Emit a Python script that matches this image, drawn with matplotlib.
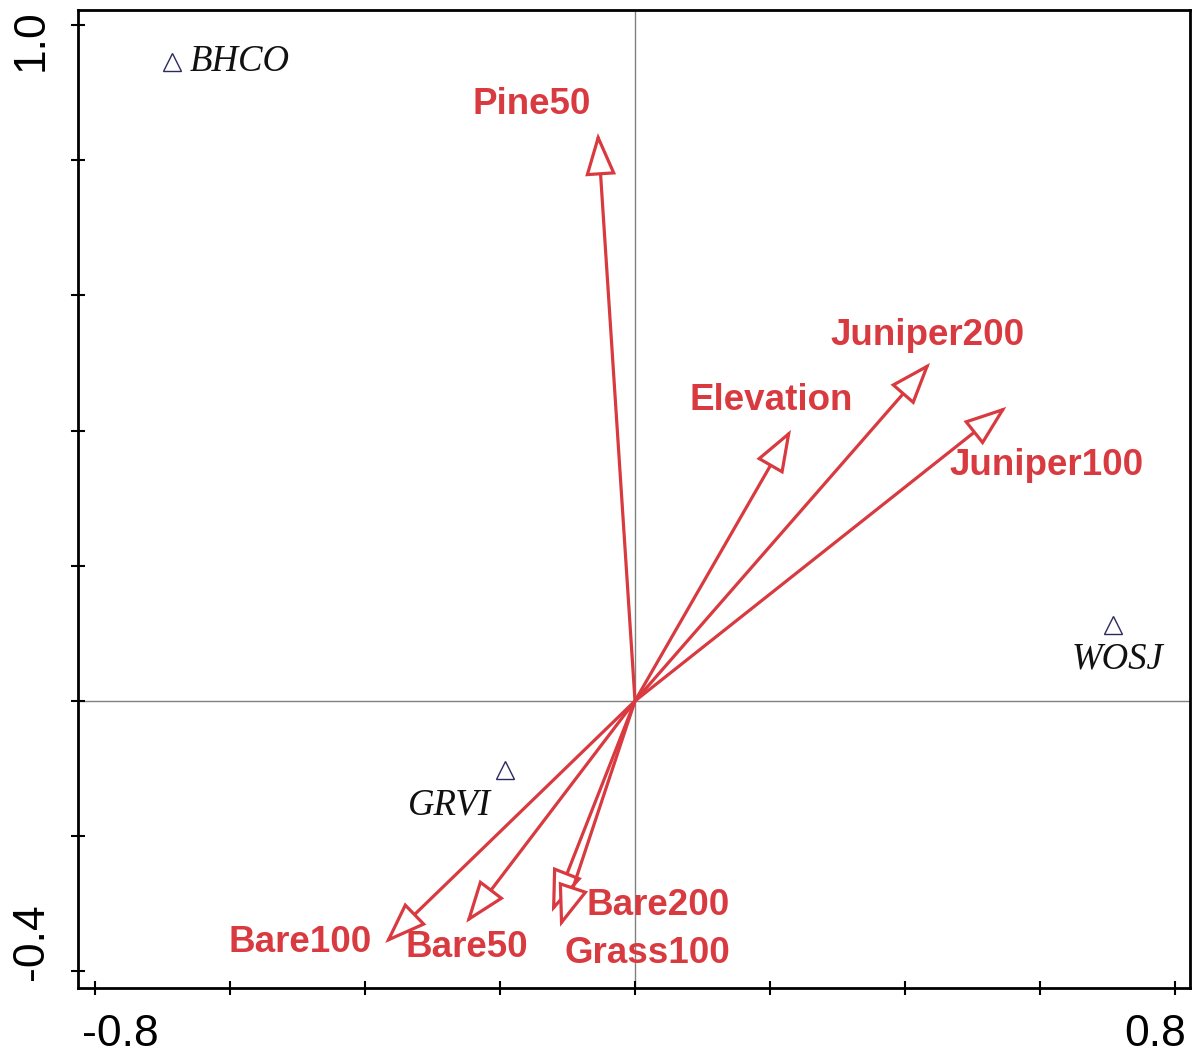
import matplotlib
matplotlib.use("Agg")
import matplotlib.pyplot as plt
from matplotlib.transforms import ScaledTranslation

# Environmental variable vectors (axis 1, axis 2 scores)
env_names = ["Pine50", "Juniper200", "Elevation", "Juniper100",
             "Bare100", "Bare50", "Bare200", "Grass100"]
env_x = [-0.055, 0.437, 0.231, 0.550, -0.370, -0.250, -0.123, -0.111]
env_y = [0.840, 0.500, 0.401, 0.435, -0.358, -0.328, -0.312, -0.334]

# Species scores
sp_names = ["BHCO", "WOSJ", "GRVI"]
sp_x = [-0.686, 0.708, -0.193]
sp_y = [0.945, 0.112, -0.102]

# Tick labels
xtick_vals = [-0.8, -0.6, -0.4, -0.2, 0.0, 0.2, 0.4, 0.6, 0.8]
xtick_labels = ["-0.8", "", "", "", "", "", "", "", "0.8"]
ytick_vals = [-0.4, -0.2, 0.0, 0.2, 0.4, 0.6, 0.8, 1.0]
ytick_labels = ["-0.4", "", "", "", "", "", "", "1.0"]

RED = "#d83a40"
NAVY = "#2a2a5e"

fig = plt.figure(figsize=(12.02, 10.55), dpi=100)
ax = fig.add_axes([0.0649, 0.0635, 0.9251, 0.927])
ax.set_xlim(-0.825, 0.822)
ax.set_ylim(-0.4246, 1.022)

ax.axhline(0, color="#808080", lw=1.0, zorder=1)
ax.axvline(0, color="#808080", lw=1.0, zorder=1)

# Vector label placement (data coordinates)
env_label_pos = {
    "Pine50": (-0.153, 0.882),
    "Juniper200": (0.433, 0.541),
    "Elevation": (0.201, 0.445),
    "Juniper100": (0.610, 0.348),
    "Bare100": (-0.496, -0.358),
    "Bare50": (-0.249, -0.365),
    "Bare200": (0.034, -0.302),
    "Grass100": (0.019, -0.373),
}

for name, x, y in zip(env_names, env_x, env_y):
    ax.annotate("", xy=(x, y), xytext=(0, 0),
                arrowprops=dict(arrowstyle="-|>,head_length=2.6,head_width=0.95",
                                mutation_scale=10, fc="white", ec=RED, lw=2.3,
                                shrinkA=0, shrinkB=0, joinstyle="miter"),
                zorder=3)
    lx, ly = env_label_pos[name]
    ax.text(lx, ly, name, color=RED, fontsize=26.5, fontweight="bold",
            family="Liberation Sans", ha="center", va="center", zorder=4)

ax.plot(sp_x, sp_y, linestyle="none", marker="^", ms=13, mfc="none",
        mec=NAVY, mew=1.0, zorder=3)

sp_label_pos = {
    "BHCO": ((-0.659, 0.945), "left"),
    "WOSJ": ((0.714, 0.061), "center"),
    "GRVI": ((-0.274, -0.154), "center"),
}
for name in sp_names:
    (lx, ly), ha = sp_label_pos[name]
    ax.text(lx, ly, name, fontsize=26.5, style="italic", family="Liberation Serif",
            color="#111111", ha=ha, va="center", zorder=4)

ax.set_xticks(xtick_vals)
ax.set_xticklabels(xtick_labels, fontsize=32, family="Liberation Sans")
ax.set_yticks(ytick_vals)
ax.set_yticklabels(ytick_labels, fontsize=32, family="Liberation Sans",
                   rotation=90, va="center")
ax.tick_params(direction="inout", length=10, width=1.5)
ax.tick_params(axis="x", pad=14)
ax.tick_params(axis="y", pad=14)

for s in ax.spines.values():
    s.set_linewidth(2.0)

# Keep the end labels inside the frame extents
xl = ax.get_xticklabels()
xl[0].set_transform(xl[0].get_transform() + ScaledTranslation(0.25, 0, fig.dpi_scale_trans))
xl[-1].set_transform(xl[-1].get_transform() + ScaledTranslation(-0.2, 0, fig.dpi_scale_trans))
yl = ax.get_yticklabels()
yl[0].set_transform(yl[0].get_transform() + ScaledTranslation(0, 0.3, fig.dpi_scale_trans))
yl[-1].set_transform(yl[-1].get_transform() + ScaledTranslation(0, -0.15, fig.dpi_scale_trans))

fig.savefig("out.png", dpi=100)
